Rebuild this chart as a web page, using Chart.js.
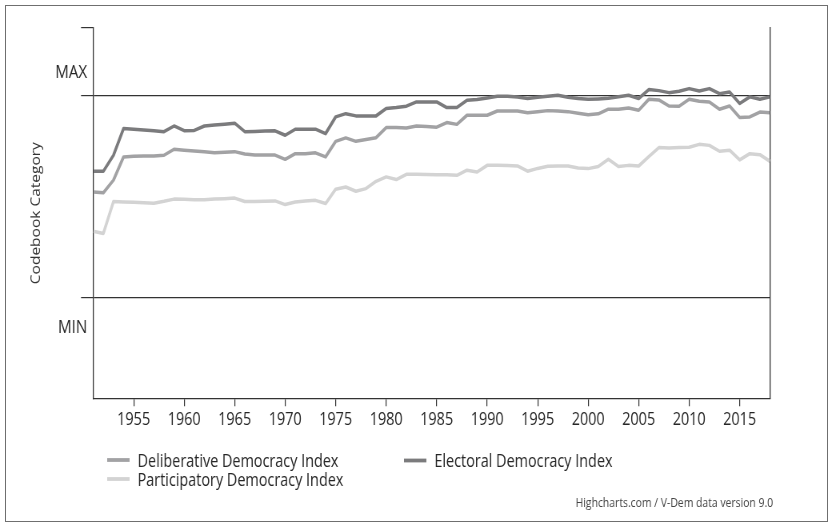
<!DOCTYPE html>
<html>
<head>
<meta charset="utf-8">
<script src="https://cdn.jsdelivr.net/npm/chart.js@4.4.1/dist/chart.umd.min.js"></script>
<style>
html, body { margin:0; padding:0; overflow:hidden; background:#fff; width:832px; height:526px; }
#wrap { position:absolute; left:0; top:0; width:1040px; height:526px; transform:scaleX(0.8); transform-origin:0 0; }
#frame { position:absolute; left:5px; top:5px; width:823px; height:517px; border:1px solid #6f6f6f; box-sizing:border-box; pointer-events:none; }
</style>
</head>
<body>
<div id="wrap"><canvas id="c" width="1040" height="526"></canvas></div>
<div id="frame"></div>
<script>
// ---- data ----
const years = [1951,1952,1953,1954,1955,1956,1957,1958,1959,1960,1961,1962,1963,1964,1965,1966,1967,1968,1969,1970,
  1971,1972,1973,1974,1975,1976,1977,1978,1979,1980,1981,1982,1983,1984,1985,1986,1987,1988,1989,1990,
  1991,1992,1993,1994,1995,1996,1997,1998,1999,2000,2001,2002,2003,2004,2005,2006,2007,2008,2009,2010,
  2011,2012,2013,2014,2015,2016,2017,2018];

const deliberative = [0.521,0.518,0.580,0.695,0.698,0.699,0.700,0.703,0.733,0.728,0.724,0.720,0.716,0.718,0.721,0.709,0.704,0.704,0.704,0.683,
  0.711,0.711,0.715,0.695,0.772,0.789,0.772,0.781,0.790,0.840,0.840,0.838,0.848,0.845,0.842,0.865,0.856,0.901,0.901,0.901,
  0.922,0.922,0.922,0.913,0.919,0.924,0.922,0.919,0.911,0.904,0.908,0.931,0.931,0.937,0.926,0.980,0.977,0.947,0.946,0.980,
  0.970,0.967,0.931,0.947,0.890,0.893,0.917,0.914];

const electoral = [0.624,0.624,0.703,0.835,0.832,0.828,0.824,0.820,0.848,0.825,0.826,0.848,0.853,0.857,0.862,0.820,0.821,0.823,0.824,0.802,
  0.832,0.832,0.832,0.810,0.893,0.909,0.898,0.898,0.898,0.934,0.939,0.946,0.967,0.967,0.967,0.939,0.939,0.975,0.979,0.987,
  0.995,0.995,0.991,0.984,0.990,0.995,1.000,0.990,0.984,0.980,0.982,0.985,0.993,1.000,0.984,1.028,1.023,1.013,1.020,1.033,
  1.021,1.033,1.008,1.016,0.959,0.992,0.980,0.992];

const participatory = [0.327,0.316,0.474,0.472,0.470,0.468,0.466,0.475,0.486,0.485,0.483,0.483,0.486,0.488,0.491,0.474,0.474,0.475,0.477,0.459,
  0.472,0.477,0.480,0.464,0.535,0.546,0.525,0.538,0.574,0.596,0.583,0.609,0.609,0.608,0.607,0.606,0.604,0.629,0.620,0.653,
  0.653,0.652,0.650,0.624,0.638,0.649,0.650,0.650,0.640,0.637,0.647,0.683,0.647,0.653,0.650,0.696,0.741,0.739,0.741,0.743,
  0.757,0.752,0.723,0.728,0.680,0.711,0.706,0.673];

const seriesNames = ['Deliberative Democracy Index', 'Electoral Democracy Index', 'Participatory Democracy Index'];
const xTickYears = [1955,1960,1965,1970,1975,1980,1985,1990,1995,2000,2005,2010,2015];
const yCategoryLabels = ['MIN', 'MAX'];
const yCategoryLabelValues = [-0.15, 1.113];
const yGridValues = [0, 1];
const yAxisTitle = 'Codebook Category';
const creditText = 'Highcharts.com / V-Dem data version 9.0';

// ---- styling ----
const FONT = '"Open Sans", "Noto Sans", sans-serif';
const seriesColors = ['#a2a2a4', '#7b7b7d', '#d3d3d3'];
const AXIS = '#333333';
const TEXT = '#262626';
const Y_MIN = -0.5, Y_MAX = 1.333;

const toPts = arr => years.map((yr, i) => ({ x: yr, y: arr[i] }));

const extras = {
  id: 'extras',
  afterDraw(chart) {
    const ctx = chart.ctx;
    ctx.save();
    const slots = [[134, 460, 466.5], [505, 460.5, 466.5], [134, 479, 485.5]];
    chart.data.datasets.forEach((ds, i) => {
      const [x, ly, ty] = slots[i];
      ctx.strokeStyle = ds.borderColor;
      ctx.lineWidth = 3.8;
      ctx.beginPath(); ctx.moveTo(x, ly); ctx.lineTo(x + 28, ly); ctx.stroke();
      ctx.fillStyle = TEXT;
      ctx.font = '18px ' + FONT;
      ctx.textAlign = 'left';
      ctx.textBaseline = 'alphabetic';
      ctx.fillText(ds.label, x + 38, ty);
    });
    ctx.font = '13px ' + FONT;
    ctx.fillStyle = '#444';
    ctx.textAlign = 'right';
    ctx.fillText(creditText, 966.5, 507.3);
    ctx.restore();
  }
};

new Chart(document.getElementById('c'), {
  type: 'line',
  data: {
    datasets: [
      { label: seriesNames[0], data: toPts(deliberative), borderColor: seriesColors[0] },
      { label: seriesNames[1], data: toPts(electoral), borderColor: seriesColors[1] },
      { label: seriesNames[2], data: toPts(participatory), borderColor: seriesColors[2] }
    ]
  },
  options: {
    responsive: false,
    animation: false,
    events: [],
    layout: { padding: { top: 28, left: 0, right: 0, bottom: 0 } },
    elements: {
      line: { borderWidth: 3.5, tension: 0, fill: false, borderJoinStyle: 'round', borderCapStyle: 'butt' },
      point: { radius: 0 }
    },
    plugins: { legend: { display: false }, tooltip: { enabled: false } },
    scales: {
      x: {
        type: 'linear',
        min: 1951,
        max: 2018,
        afterBuildTicks: s => { s.ticks = xTickYears.map(v => ({ value: v })); },
        afterFit: s => { s.height = 526 - 398.3; },
        ticks: {
          autoSkip: false,
          maxRotation: 0,
          padding: 3,
          color: TEXT,
          font: { family: FONT, size: 18 },
          callback: v => String(v)
        },
        grid: { drawOnChartArea: false, drawTicks: true, tickLength: 8, tickColor: AXIS, lineWidth: 1.2 },
        border: { display: true, color: AXIS, width: 1.2 }
      },
      y: {
        type: 'linear',
        position: 'left',
        min: Y_MIN,
        max: Y_MAX,
        afterBuildTicks: s => {
          const vals = [...yCategoryLabelValues, ...yGridValues, Y_MAX].sort((a, b) => a - b);
          s.ticks = vals.map(v => ({ value: v }));
        },
        afterFit: s => { s.width = 116.6; },
        ticks: {
          autoSkip: false,
          padding: -7.8,
          color: TEXT,
          font: { family: FONT, size: 19 },
          callback: v => {
            const k = yCategoryLabelValues.indexOf(v);
            return k >= 0 ? yCategoryLabels[k] : '';
          }
        },
        grid: {
          drawTicks: true,
          tickLength: 15.3,
          lineWidth: 1.2,
          color: c => (c.tick && yGridValues.includes(c.tick.value)) ? AXIS : 'rgba(0,0,0,0)',
          tickColor: c => (c.tick && (yGridValues.includes(c.tick.value) || c.tick.value === Y_MAX)) ? AXIS : 'rgba(0,0,0,0)'
        },
        border: { display: true, color: AXIS, width: 1.3 },
        title: {
          display: true,
          text: yAxisTitle,
          color: '#333',
          font: { family: FONT, size: 15.5 },
          padding: { top: 36, bottom: 0 }
        }
      },
      yRight: {
        type: 'linear',
        position: 'right',
        min: 0,
        max: 1,
        afterFit: s => { s.width = 1040 - 962.5; },
        ticks: { display: false },
        grid: { drawOnChartArea: false, drawTicks: false },
        border: { display: true, color: AXIS, width: 1.3 }
      }
    }
  },
  plugins: [extras]
});
</script>
</body>
</html>
